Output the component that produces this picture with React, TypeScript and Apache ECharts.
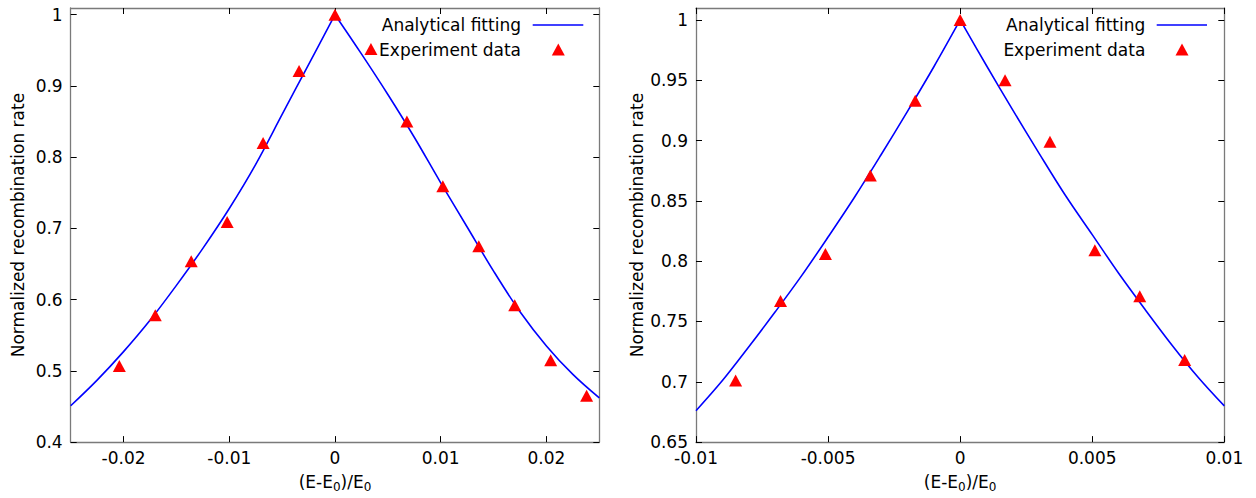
import React, { useEffect, useRef } from "react";
import * as echarts from "echarts";

// ---- tick values ----
const leftXTicks = [-0.02, -0.01, 0, 0.01, 0.02];
const leftYTicks = [0.4, 0.5, 0.6, 0.7, 0.8, 0.9, 1];
const rightXTicks = [-0.01, -0.005, 0, 0.005, 0.01];
const rightYTicks = [0.65, 0.7, 0.75, 0.8, 0.85, 0.9, 0.95, 1];

// ---- left chart data ----
const leftExpX = [-0.0204, -0.017, -0.0136, -0.0102, -0.0068, -0.0034, 0, 0.0034, 0.0068, 0.0102, 0.0136, 0.017, 0.0204, 0.0238];
const leftExpY = [0.507, 0.578, 0.654, 0.709, 0.82, 0.921, 1.0, 0.952, 0.85, 0.759, 0.675, 0.592, 0.515, 0.465];
const leftFitX = [-0.025, -0.0225, -0.02, -0.0175, -0.015, -0.0125, -0.01, -0.0075, -0.005, -0.0025, 0, 0.0025, 0.005, 0.0075, 0.01, 0.0125, 0.015, 0.0175, 0.02, 0.0225, 0.025];
const leftFitY = [0.451, 0.487, 0.527, 0.571, 0.62, 0.672, 0.728, 0.79, 0.86, 0.93, 1.0, 0.945, 0.888, 0.828, 0.764, 0.702, 0.64, 0.583, 0.535, 0.495, 0.462];

// ---- right chart data ----
const rightExpX = [-0.0085, -0.0068, -0.0051, -0.0034, -0.0017, 0, 0.0017, 0.0034, 0.0051, 0.0068, 0.0085];
const rightExpY = [0.701, 0.767, 0.806, 0.871, 0.933, 1.0, 0.95, 0.899, 0.809, 0.771, 0.718];
const rightFitX = [-0.01, -0.009, -0.008, -0.007, -0.006, -0.005, -0.004, -0.003, -0.002, -0.001, 0, 0.001, 0.002, 0.003, 0.004, 0.005, 0.006, 0.007, 0.008, 0.009, 0.01];
const rightFitY = [0.676, 0.701, 0.729, 0.758, 0.788, 0.82, 0.853, 0.888, 0.924, 0.961, 1.0, 0.962, 0.925, 0.889, 0.854, 0.822, 0.79, 0.76, 0.731, 0.704, 0.68];

const legendFit = "Analytical fitting";
const legendExp = "Experiment data";
const yName = "Normalized recombination rate";
const xName = "{n|(E-E}{sub|0}{n|)/E}{sub|0}";

const FONT = "DejaVu Sans";
const FS = 17;
const BORDER = "#7a7a7a";

const fmt = (v: number) => String(parseFloat(Number(v).toFixed(4)));

function pairs(xs: number[], ys: number[], keep: (x: number) => boolean) {
  const out: number[][] = [];
  xs.forEach((x, i) => {
    if (keep(x)) out.push([x, ys[i]]);
  });
  return out;
}

function xAxisCfg(grid: number, min: number, max: number, ticks: number[], top: boolean) {
  return {
    type: "value",
    gridIndex: grid,
    position: top ? "top" : "bottom",
    min,
    max,
    splitLine: { show: false },
    axisLine: { show: true, onZero: false, lineStyle: { color: BORDER, width: 1.3 } },
    axisTick: { show: true, inside: true, length: 6, customValues: ticks, lineStyle: { color: "#000", width: 1 } },
    axisLabel: {
      show: !top,
      customValues: ticks,
      margin: 7,
      color: "#000",
      fontFamily: FONT,
      fontSize: FS,
      formatter: fmt,
    },
    name: top ? "" : xName,
    nameLocation: "middle",
    nameGap: 28,
    nameTextStyle: {
      color: "#000",
      fontFamily: FONT,
      fontSize: FS,
      rich: {
        n: { fontFamily: FONT, fontSize: FS, lineHeight: 20, verticalAlign: "top", color: "#000" },
        sub: { fontFamily: FONT, fontSize: 12, lineHeight: 12, padding: [10, 0, 0, 0], verticalAlign: "bottom", color: "#000" },
      },
    },
  };
}

function yAxisCfg(grid: number, min: number, max: number, ticks: number[], right: boolean, gap: number) {
  return {
    type: "value",
    gridIndex: grid,
    position: right ? "right" : "left",
    min,
    max,
    splitLine: { show: false },
    axisLine: { show: true, onZero: false, lineStyle: { color: BORDER, width: 1.3 } },
    axisTick: { show: true, inside: true, length: 6, customValues: ticks, lineStyle: { color: "#000", width: 1 } },
    axisLabel: {
      show: !right,
      customValues: ticks,
      margin: 8,
      color: "#000",
      fontFamily: FONT,
      fontSize: FS,
      formatter: fmt,
    },
    name: right ? "" : yName,
    nameLocation: "middle",
    nameRotate: 90,
    nameGap: gap,
    nameTextStyle: { color: "#000", fontFamily: FONT, fontSize: FS },
  };
}

function lineSeries(xi: number, yi: number, data: number[][]) {
  return {
    type: "line",
    xAxisIndex: xi,
    yAxisIndex: yi,
    data,
    showSymbol: false,
    symbol: "none",
    smooth: 0.35,
    lineStyle: { color: "#0000ff", width: 1.6 },
    z: 2,
    silent: true,
  };
}

function scatterSeries(xi: number, yi: number, data: number[][]) {
  return {
    type: "scatter",
    xAxisIndex: xi,
    yAxisIndex: yi,
    data,
    symbol: "triangle",
    symbolSize: [13, 12],
    itemStyle: { color: "#ff0000", opacity: 1 },
    z: 3,
    silent: true,
  };
}

function legendGraphics(textRight: number, lineX1: number, lineX2: number, triX: number) {
  const y1 = 25;
  const y2 = 49.5;
  return [
    {
      type: "text",
      x: textRight,
      y: y1,
      style: { text: legendFit, fill: "#000", font: `${FS}px "${FONT}"`, textAlign: "right", textVerticalAlign: "middle" },
    },
    {
      type: "line",
      shape: { x1: lineX1, y1: y1, x2: lineX2, y2: y1 },
      style: { stroke: "#0000ff", lineWidth: 1.6 },
    },
    {
      type: "text",
      x: textRight,
      y: y2,
      style: { text: legendExp, fill: "#000", font: `${FS}px "${FONT}"`, textAlign: "right", textVerticalAlign: "middle" },
    },
    {
      type: "polygon",
      shape: { points: [[triX - 6.5, y2 + 6], [triX + 6.5, y2 + 6], [triX, y2 - 6]] },
      style: { fill: "#ff0000" },
    },
  ];
}

export default function App() {
  const ref = useRef<HTMLDivElement>(null);
  useEffect(() => {
    document.body.style.margin = "0";
    if (!ref.current) return;
    const chart = echarts.init(ref.current, undefined, { renderer: "svg" });
    const option: any = {
      animation: false,
      backgroundColor: "#fff",
      grid: [
        { left: 70.7, top: 8, width: 528.6, height: 435.3 },
        { left: 696, top: 8, width: 528.3, height: 435.3 },
      ],
      xAxis: [
        xAxisCfg(0, -0.025, 0.025, leftXTicks, false),
        xAxisCfg(0, -0.025, 0.025, leftXTicks, true),
        xAxisCfg(1, -0.01, 0.01, rightXTicks, false),
        xAxisCfg(1, -0.01, 0.01, rightXTicks, true),
      ],
      yAxis: [
        yAxisCfg(0, 0.4, 1.0094, leftYTicks, false, 44),
        yAxisCfg(0, 0.4, 1.0094, leftYTicks, true, 44),
        yAxisCfg(1, 0.65, 1.0099, rightYTicks, false, 51),
        yAxisCfg(1, 0.65, 1.0099, rightYTicks, true, 51),
      ],
      series: [
        lineSeries(0, 0, pairs(leftFitX, leftFitY, (x) => x <= 0)),
        lineSeries(0, 0, pairs(leftFitX, leftFitY, (x) => x >= 0)),
        scatterSeries(0, 0, pairs(leftExpX, leftExpY, () => true)),
        lineSeries(2, 2, pairs(rightFitX, rightFitY, (x) => x <= 0)),
        lineSeries(2, 2, pairs(rightFitX, rightFitY, (x) => x >= 0)),
        scatterSeries(2, 2, pairs(rightExpX, rightExpY, () => true)),
      ],
      graphic: [
        ...legendGraphics(521, 532.7, 583.3, 558.3),
        ...legendGraphics(1145.3, 1156.7, 1207, 1182),
      ],
    };
    chart.setOption(option);
    return () => chart.dispose();
  }, []);
  return <div ref={ref} style={{ width: 1256, height: 498 }} />;
}
